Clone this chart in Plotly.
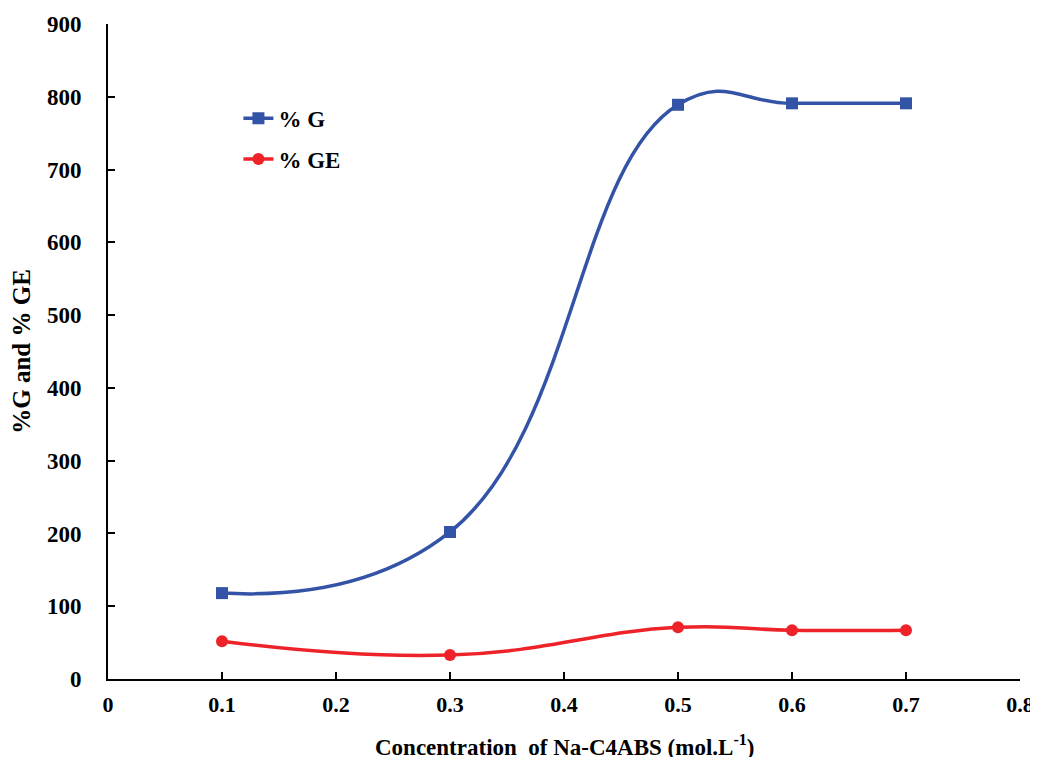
import plotly.graph_objects as go

conc = [0.1, 0.3, 0.5, 0.6, 0.7]
pct_G = [118, 202, 789, 791, 791]
pct_GE = [52, 33, 71, 67, 67]

x_ticks = [0, 0.1, 0.2, 0.3, 0.4, 0.5, 0.6, 0.7, 0.8]
x_tick_labels = ["0", "0.1", "0.2", "0.3", "0.4", "0.5", "0.6", "0.7", "0.8"]
y_ticks = [0, 100, 200, 300, 400, 500, 600, 700, 800, 900]

x_title = "Concentration  of Na-C4ABS (mol.L<sup>-1</sup>)"
y_title = "%G and % GE"

FONT = "Liberation Serif"

fig = go.Figure()
fig.add_trace(go.Scatter(
    x=conc, y=pct_G, name="<b>% G</b>", mode="lines+markers",
    line=dict(color="#3353A6", width=3.5, shape="spline", smoothing=1.3),
    marker=dict(symbol="square", size=12, color="#3353A6"),
    legendgroup="g",
))
fig.add_trace(go.Scatter(
    x=conc, y=pct_GE, name="<b>% GE</b>", mode="lines+markers",
    line=dict(color="#EE2229", width=3.5, shape="spline", smoothing=1.3),
    marker=dict(symbol="circle", size=12, color="#EE2229"),
    legendgroup="ge",
))

fig.update_layout(
    width=1030, height=749,
    margin=dict(l=100, r=18, t=16, b=78),
    plot_bgcolor="white", paper_bgcolor="white",
    font=dict(family=FONT, size=22, color="black"),
    showlegend=True,
    legend=dict(x=0.143, y=0.889, xanchor="left", yanchor="top",
                bgcolor="rgba(0,0,0,0)", font=dict(size=23, family=FONT),
                traceorder="grouped", tracegroupgap=8),
    xaxis=dict(
        range=[0, 0.8], tickvals=x_ticks, ticktext=["<b>%s</b>" % t for t in x_tick_labels],
        ticks="inside", ticklen=7, tickwidth=2, tickcolor="black",
        showline=True, linecolor="black", linewidth=2, showgrid=False, zeroline=False,
        ticklabelstandoff=5, automargin=False, ticklabeloverflow="allow",
        tickfont=dict(size=22, family=FONT),
    ),
    yaxis=dict(
        range=[0, 900], tickvals=y_ticks, ticktext=["<b>%d</b>" % v for v in y_ticks],
        ticks="inside", ticklen=7, tickwidth=2, tickcolor="black",
        showline=True, linecolor="black", linewidth=2, showgrid=False, zeroline=False,
        ticklabelstandoff=20, automargin=False,
        tickfont=dict(size=23, family=FONT),
        title=dict(text="<b>%s</b>" % y_title, font=dict(size=25, family=FONT), standoff=9),
    ),
    annotations=[dict(
        text="<b>%s</b>" % x_title, xref="paper", yref="paper",
        x=0.5, y=-0.1008, xanchor="center", yanchor="middle", showarrow=False,
        font=dict(size=23, family=FONT, color="black"),
    )],
)

fig.write_html("out.html")
